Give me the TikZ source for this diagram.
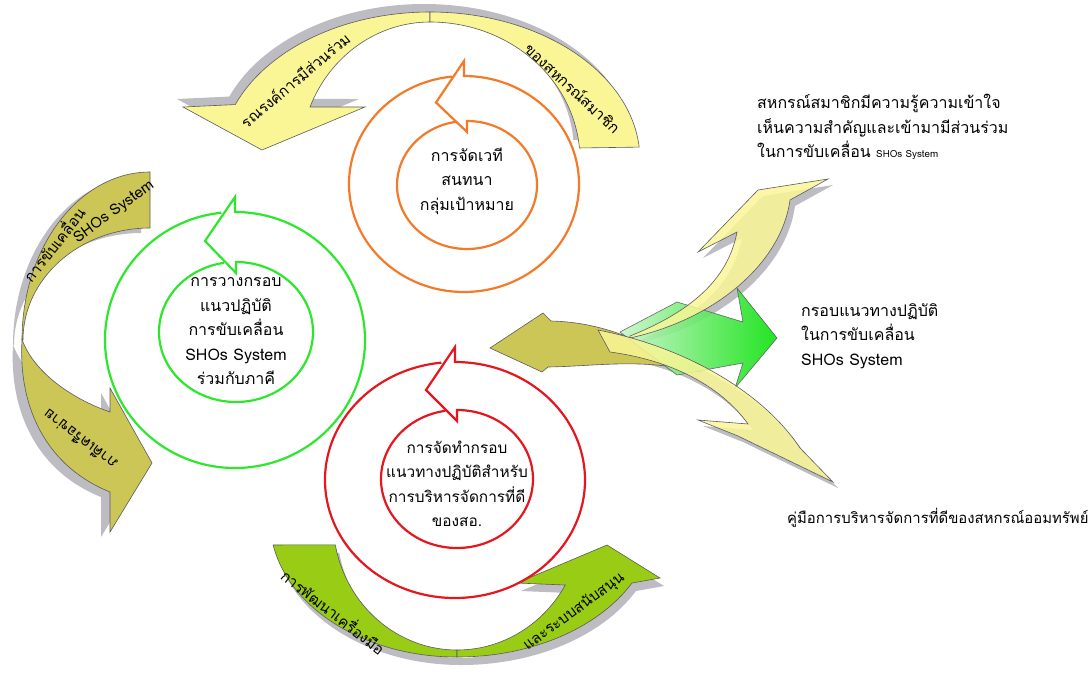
\documentclass[tikz,border=0pt]{standalone}
\usepackage{fontspec}
\setmainfont[Script=Thai]{Loma}
\usepackage{tikz}
\usetikzlibrary{positioning}
\definecolor{jaunepale}{RGB}{250,246,150}
\definecolor{kaki}{RGB}{203,198,86}
\definecolor{vertpomme}{RGB}{153,204,20}
\definecolor{ombrefleche}{RGB}{188,188,194}
\definecolor{bordfleche}{RGB}{90,90,96}
\definecolor{cercleorange}{RGB}{242,122,40}
\definecolor{cerclevert}{RGB}{45,230,45}
\definecolor{cerclerouge}{RGB}{228,22,30}
\definecolor{vertvif}{RGB}{10,225,10}
\definecolor{vertclair}{RGB}{200,245,200}
\begin{document}
\begin{tikzpicture}[x=1pt,y=1pt]
% les styles
\tikzstyle spirale=[line width=2.2pt,line join=miter]
\tikzstyle ombre=[fill=ombrefleche,draw=none]
\tikzstyle bandeaujaune=[fill=jaunepale,draw=bordfleche,line width=0.6pt]
\tikzstyle bandeaukaki=[fill=kaki,draw=bordfleche,line width=0.6pt]
\tikzstyle bandeauvert=[fill=vertpomme,draw=bordfleche,line width=0.6pt]
\tikzstyle flechevert=[left color=vertclair,right color=vertvif,draw=bordfleche,line width=0.6pt,opacity=0.9]
\tikzstyle texte=[font=\fontsize{16}{24.5}\selectfont,align=center,inner sep=0pt]
\tikzstyle textebande=[font=\fontsize{15}{18}\selectfont,inner sep=0pt]
\useasboundingbox (0,0) rectangle (1092,-673);
% les contours des bandeaux
\newcommand{\hautgauche}{(430,-12) arc[start angle=90,end angle=158,x radius=210,y radius=148]
  -- (183,-107) -- (262,-150) -- (365,-107) -- ([shift={(430,-160)}]157.4:130 and 138)
  arc[start angle=157.4,end angle=90,x radius=130,y radius=138] -- cycle}
\newcommand{\hautdroit}{(430,-12) arc[start angle=90,end angle=5,x radius=210,y radius=148]
  -- ([shift={(430,-160)}]5:150 and 138) arc[start angle=5,end angle=90,x radius=150,y radius=138] -- cycle}
\newcommand{\gauchehaut}{(150,-172) arc[start angle=90,end angle=180,x radius=128,y radius=168]
  -- ([shift={(150,-340)}]180:127 and 112) arc[start angle=180,end angle=90,x radius=127,y radius=112] -- cycle}
\newcommand{\gauchebas}{(22,-340) .. controls (18,-412) and (50,-468) .. (110,-492) -- (110,-532)
  -- (152,-463) -- (110,-388) -- (110,-412) .. controls (70,-398) and (35,-372) .. (23,-342) -- cycle}
\newcommand{\basgauche}{([shift={(457,-520)}]190.5:187 and 137) arc[start angle=190.5,end angle=270,x radius=187,y radius=137]
  -- (457,-650) arc[start angle=270,end angle=191,x radius=124,y radius=130] -- cycle}
\newcommand{\basdroit}{(457,-657) arc[start angle=270,end angle=332.6,x radius=197,y radius=137]
  -- (660,-578) -- (607,-545) -- (517,-583) -- ([shift={(457,-520)}]330:125 and 130)
  arc[start angle=330,end angle=270,x radius=125,y radius=130] -- cycle}
\newcommand{\aile}{(490,-348) -- (543,-313) -- (551,-321) .. controls (590,-322) and (630,-332) .. (700,-372)
  .. controls (640,-358) and (600,-366) .. (548,-367) -- (542,-372) -- cycle}
\newcommand{\flechehaut}{(630,-336) .. controls (690,-312) and (728,-280) .. (737,-232) -- (698,-252) -- (758,-190)
  -- (828,-179) -- (790,-200) .. controls (782,-260) and (720,-318) .. (630,-338) -- cycle}
\newcommand{\flechebas}{(598,-330) .. controls (690,-348) and (765,-395) .. (800,-448) -- (833,-482) -- (738,-436)
  -- (698,-420) -- (748,-424) .. controls (720,-385) and (670,-360) .. (610,-352) -- cycle}
% les ombres
\fill[ombre,shift={(-6,8)}] \hautgauche;
\fill[ombre,shift={(-6,8)}] \hautdroit;
\fill[ombre,shift={(-9,-5)}] \gauchehaut;
\fill[ombre,shift={(-9,-5)}] \gauchebas;
\fill[ombre,shift={(4,-8)}] \basgauche;
\fill[ombre,shift={(4,-8)}] \basdroit;
\fill[ombre,shift={(5,-6)}] \flechehaut;
\fill[ombre,shift={(5,-6)}] \flechebas;
% les bandeaux
\filldraw[bandeaujaune] \hautgauche;
\filldraw[bandeaujaune] \hautdroit;
\filldraw[bandeaukaki] \gauchehaut;
\filldraw[bandeaukaki] \gauchebas;
\filldraw[bandeauvert] \basgauche;
\filldraw[bandeauvert] \basdroit;
% l'eventail de droite
\filldraw[bandeaukaki] \aile;
\draw[flechevert] (620,-332) -- (677,-302) -- (743,-322) -- (737,-288) -- (777,-338) -- (735,-388) -- (743,-363) -- (677,-375) -- cycle;
\filldraw[bandeaujaune,fill opacity=0.85] \flechehaut;
\filldraw[bandeaujaune,fill opacity=0.85] \flechebas;
% les spirales
\foreach \cx/\cy/\Rx/\Ry/\ix/\iy/\rx/\ry/\couleur in {464/-184/115/108/467/-185/70/64/cercleorange,
  235/-340/130/128/236/-332/77/70/cerclevert, 455/-480/130/118/457/-479/76/69/cerclerouge}
  \draw[spirale,draw=\couleur] ({\cx+\Rx*cos(-264)},{\cy+\Ry*sin(-264)})
    arc[start angle=-264,end angle=90,x radius=\Rx,y radius=\Ry] -- ++(0,15)
    -- ({\ix-31},{(\cy+\Ry+\iy+\ry)/2-4}) -- ({\ix},{\iy+\ry-11}) -- ({\ix},{\iy+\ry})
    arc[start angle=90,end angle=-261,x radius=\rx,y radius=\ry];
% les textes des cercles
\node[texte] (vethi) at (467,-181) {การจัดเวที\\สนทนา\\กลุ่มเป้าหมาย};
\node[texte] (krob) at (236,-331.5) {การวางกรอบ\\แนวปฏิบัติ\\การขับเคลื่อน\\SHOs System\\ร่วมกับภาคี};
\node[texte,font=\fontsize{15.4}{24.5}\selectfont] (jadtham) at (457,-484) {การจัดทำกรอบ\\แนวทางปฏิบัติสำหรับ\\การบริหารจัดการที่ดี\\ของสอ.};
% les textes des bandeaux
\node[textebande,rotate=40] (ronnarong) at (295,-80) {รณรงค์การมีส่วนร่วม};
\node[textebande,rotate=-43] (khong) at (573,-88) {ของสหกรณ์สมาชิก};
\node[textebande,rotate=52] (khapkhluean) at (53,-244) {การขับเคลื่อน};
\node[textebande,rotate=36] (shos) at (114,-212) {SHOs System};
\node[textebande,rotate=143] (phakhi) at (80,-440) {ภาคีเครือข่าย};
\node[textebande,rotate=-38] (phatthana) at (334,-611) {การพัฒนาเครื่องมือ};
\node[textebande,rotate=36] (rabop) at (574,-612) {และระบบสนับสนุน};
% les resultats
\node[texte,align=left,anchor=west] (sahakon) at (757,-127) {สหกรณ์สมาชิกมีความรู้ความเข้าใจ\\เห็นความสำคัญและเข้ามามีส่วนร่วม\\ในการขับเคลื่อน {\fontsize{9.8}{24}\selectfont SHOs System}};
\node[texte,align=left,anchor=west] (naewthang) at (801,-336) {กรอบแนวทางปฏิบัติ\\ในการขับเคลื่อน\\SHOs System};
\node[texte,align=left,anchor=west,font=\fontsize{14.9}{20}\selectfont] (khumue) at (787,-518) {คู่มือการบริหารจัดการที่ดีของสหกรณ์ออมทรัพย์};
\end{tikzpicture}
\end{document}
